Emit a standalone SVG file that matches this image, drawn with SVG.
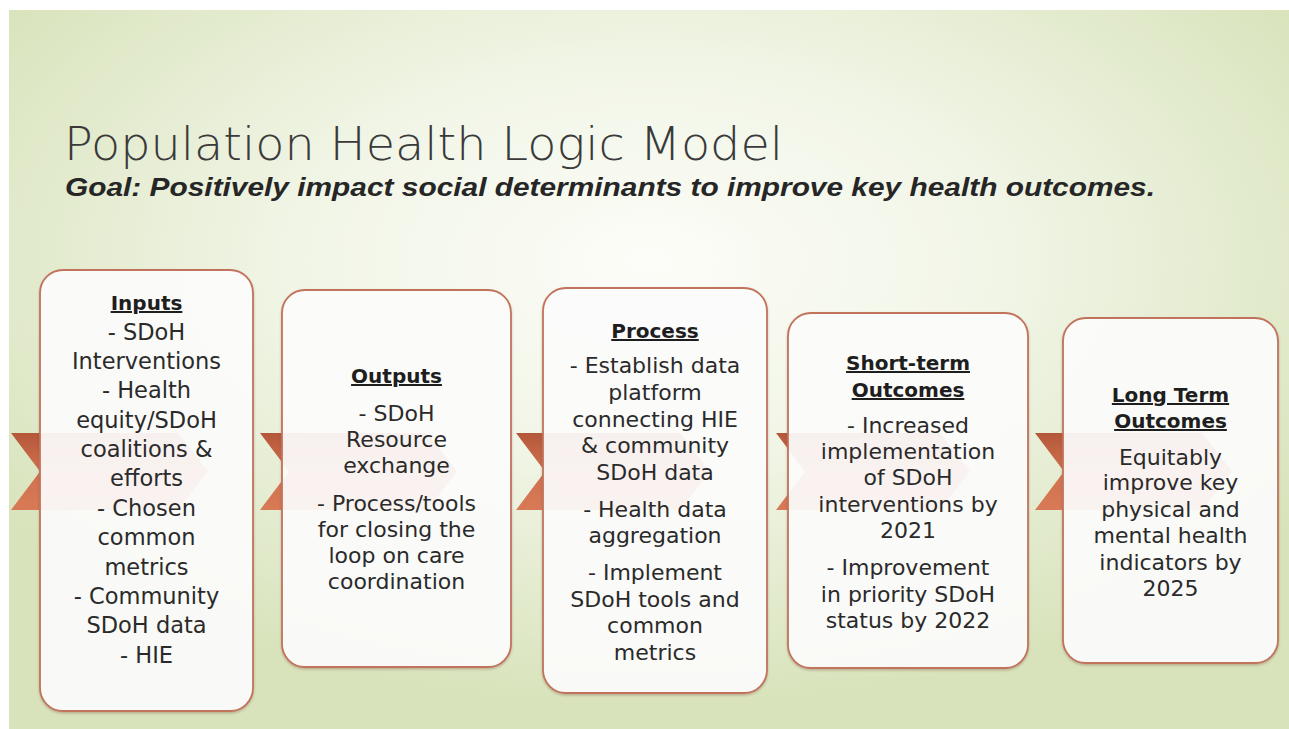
<svg xmlns="http://www.w3.org/2000/svg" width="1289" height="729" viewBox="0 0 1289 729">
  <defs>
    <radialGradient id="bg" cx="0.5" cy="0.35" r="0.62" fx="0.5" fy="0.35">
      <stop offset="0" stop-color="#fcfdf8"/>
      <stop offset="0.45" stop-color="#f1f5e6"/>
      <stop offset="1" stop-color="#d8e3bb"/>
    </radialGradient>
    <linearGradient id="chev" x1="0" y1="0" x2="0" y2="1">
      <stop offset="0" stop-color="#b4583a"/>
      <stop offset="0.5" stop-color="#d0714f"/>
      <stop offset="1" stop-color="#d87a56"/>
    </linearGradient>
    <filter id="sh" x="-5%" y="-5%" width="110%" height="110%">
      <feDropShadow dx="0" dy="1.5" stdDeviation="1.2" flood-color="#7a4a3a" flood-opacity="0.35"/>
    </filter>
  </defs>
  <style>
    .box { fill: #ffffff; fill-opacity: 0.9; stroke: #c2735c; stroke-width: 1.8; }
    .chev { fill: url(#chev); }
    .t { font-family: "DejaVu Sans", "Noto Sans", sans-serif; font-size: 22px; fill: #2a2a2a; text-anchor: middle; }
    .t1 { font-size: 22.5px; }
    .h { font-family: "DejaVu Sans", "Noto Sans", sans-serif; font-size: 20px; font-weight: bold; fill: #1e1e1e; text-anchor: middle; text-decoration: underline; }
    .title { font-family: "DejaVu Sans", "Noto Sans", sans-serif; font-size: 47px; font-weight: 200; fill: #3a3a3a; }
    .sub { font-family: "Liberation Sans", Arial, sans-serif; font-size: 25px; font-weight: bold; font-style: italic; fill: #262626; }
  </style>

  <rect x="0" y="0" width="1289" height="729" fill="#ffffff"/>
  <rect x="9" y="10" width="1280" height="719" fill="url(#bg)"/>

  <g id="title">
    <text class="title" x="64" y="160" textLength="719" lengthAdjust="spacingAndGlyphs">Population Health Logic Model</text>
    <text class="sub" x="65" y="196" textLength="1090" lengthAdjust="spacingAndGlyphs">Goal: Positively impact social determinants to improve key health outcomes.</text>
  </g>

  <g id="connectors">
    <polygon class="chev" points="11,433 178,433 208,471.5 178,510 11,510 40,471.5"/>
    <polygon class="chev" points="260,433 427,433 457,471.5 427,510 260,510 289,471.5"/>
    <polygon class="chev" points="516,433 680,433 710,471.5 680,510 516,510 545,471.5"/>
    <polygon class="chev" points="776,433 940,433 970,471.5 940,510 776,510 805,471.5"/>
    <polygon class="chev" points="1035,433 1202,433 1232,471.5 1202,510 1035,510 1064,471.5"/>
  </g>

  <g id="inputs">
    <rect class="box" x="40" y="270" width="213" height="441" rx="23" filter="url(#sh)"/>
    <text class="h" x="146.5" y="310">Inputs</text>
    <text class="t t1" x="146.5" y="339.5">- SDoH</text>
    <text class="t t1" x="146.5" y="369">Interventions</text>
    <text class="t t1" x="146.5" y="398">- Health</text>
    <text class="t t1" x="146.5" y="427.5">equity/SDoH</text>
    <text class="t t1" x="146.5" y="457">coalitions &amp;</text>
    <text class="t t1" x="146.5" y="486">efforts</text>
    <text class="t t1" x="146.5" y="515.5">- Chosen</text>
    <text class="t t1" x="146.5" y="545">common</text>
    <text class="t t1" x="146.5" y="574.5">metrics</text>
    <text class="t t1" x="146.5" y="604">- Community</text>
    <text class="t t1" x="146.5" y="633">SDoH data</text>
    <text class="t t1" x="146.5" y="662.5">- HIE</text>
  </g>

  <g id="outputs">
    <rect class="box" x="282" y="290" width="229" height="377" rx="23" filter="url(#sh)"/>
    <text class="h" x="396.5" y="383">Outputs</text>
    <text class="t" x="396.5" y="421">- SDoH</text>
    <text class="t" x="396.5" y="447">Resource</text>
    <text class="t" x="396.5" y="473">exchange</text>
    <text class="t" x="396.5" y="511">- Process/tools</text>
    <text class="t" x="396.5" y="537">for closing the</text>
    <text class="t" x="396.5" y="563">loop on care</text>
    <text class="t" x="396.5" y="589">coordination</text>
  </g>

  <g id="process">
    <rect class="box" x="543" y="288" width="224" height="405" rx="23" filter="url(#sh)"/>
    <text class="h" x="655" y="338">Process</text>
    <text class="t" x="655" y="373">- Establish data</text>
    <text class="t" x="655" y="400">platform</text>
    <text class="t" x="655" y="427">connecting HIE</text>
    <text class="t" x="655" y="453">&amp; community</text>
    <text class="t" x="655" y="480">SDoH data</text>
    <text class="t" x="655" y="517">- Health data</text>
    <text class="t" x="655" y="543">aggregation</text>
    <text class="t" x="655" y="580">- Implement</text>
    <text class="t" x="655" y="607">SDoH tools and</text>
    <text class="t" x="655" y="633">common</text>
    <text class="t" x="655" y="660">metrics</text>
  </g>

  <g id="short-term">
    <rect class="box" x="788" y="313" width="240" height="355" rx="23" filter="url(#sh)"/>
    <text class="h" x="908" y="370">Short-term</text>
    <text class="h" x="908" y="397">Outcomes</text>
    <text class="t" x="908" y="433">- Increased</text>
    <text class="t" x="908" y="459">implementation</text>
    <text class="t" x="908" y="485">of SDoH</text>
    <text class="t" x="908" y="512">interventions by</text>
    <text class="t" x="908" y="538">2021</text>
    <text class="t" x="908" y="575">- Improvement</text>
    <text class="t" x="908" y="602">in priority SDoH</text>
    <text class="t" x="908" y="628">status by 2022</text>
  </g>

  <g id="long-term">
    <rect class="box" x="1063" y="318" width="215" height="345" rx="23" filter="url(#sh)"/>
    <text class="h" x="1170.5" y="402">Long Term</text>
    <text class="h" x="1170.5" y="428">Outcomes</text>
    <text class="t" x="1170.5" y="465">Equitably</text>
    <text class="t" x="1170.5" y="490">improve key</text>
    <text class="t" x="1170.5" y="517">physical and</text>
    <text class="t" x="1170.5" y="543">mental health</text>
    <text class="t" x="1170.5" y="570">indicators by</text>
    <text class="t" x="1170.5" y="596">2025</text>
  </g>
</svg>
